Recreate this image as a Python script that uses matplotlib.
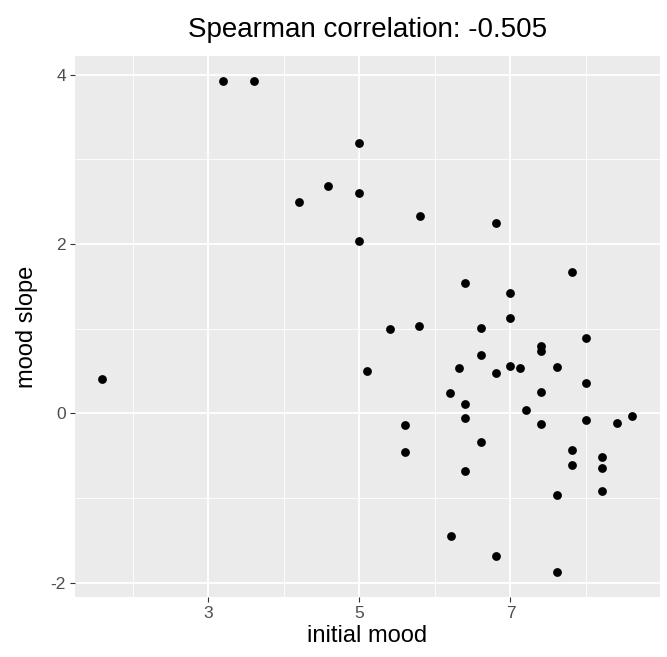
import matplotlib
matplotlib.use("Agg")
import matplotlib.pyplot as plt

# initial mood vs. mood slope
initial_mood = [1.59, 3.19, 3.60, 5.00, 4.59, 4.20, 5.00, 5.00, 5.40, 5.10,
                5.80, 6.81, 7.82, 6.40, 7.00, 7.00, 5.79, 6.61, 8.00, 7.40,
                7.40, 6.61, 6.32, 7.00, 7.12, 6.81, 7.61, 8.00, 6.20, 7.40,
                6.40, 7.21, 6.40, 5.61, 7.40, 8.00, 8.41, 8.61, 6.61, 5.61,
                7.82, 8.21, 8.21, 7.82, 6.40, 8.21, 7.61, 6.21, 6.81, 7.61]
mood_slope = [0.40, 3.92, 3.93, 3.19, 2.69, 2.50, 2.60, 2.04, 1.00, 0.50,
              2.33, 2.25, 1.67, 1.54, 1.42, 1.13, 1.03, 1.01, 0.89, 0.79,
              0.74, 0.69, 0.54, 0.56, 0.53, 0.47, 0.55, 0.36, 0.24, 0.25,
              0.11, 0.04, -0.06, -0.14, -0.13, -0.08, -0.12, -0.03, -0.34, -0.46,
              -0.43, -0.52, -0.65, -0.61, -0.68, -0.92, -0.97, -1.45, -1.69, -1.88]

x_ticks = [3, 5, 7]
y_ticks = [-2, 0, 2, 4]
title = "Spearman correlation: -0.505"

plt.rcParams['font.family'] = ['Liberation Sans', 'DejaVu Sans']

fig = plt.figure(figsize=(6.67, 6.57), dpi=100)
ax = fig.add_axes([75 / 667, 1 - 597 / 657, 585 / 667, 541 / 657])
ax.set_facecolor("#EBEBEB")

ax.set_xlim(1.235, 8.98)
ax.set_ylim(-2.17, 4.22)

# ggplot style grid: major and thinner minor lines
for v in [2, 4, 6, 8]:
    ax.axvline(v, color="white", lw=0.6, zorder=0)
for v in [-1, 1, 3]:
    ax.axhline(v, color="white", lw=0.6, zorder=0)
for v in x_ticks:
    ax.axvline(v, color="white", lw=1.3, zorder=0)
for v in y_ticks:
    ax.axhline(v, color="white", lw=1.3, zorder=0)

ax.scatter(initial_mood, mood_slope, s=40, c="black", linewidths=0, zorder=3)

ax.set_xticks(x_ticks)
ax.set_xticklabels([str(t) for t in x_ticks])
ax.set_yticks(y_ticks)
ax.set_yticklabels([str(t) for t in y_ticks])
ax.tick_params(colors="#333333", labelcolor="#4D4D4D", labelsize=12.5,
               length=3.5, width=0.8, pad=3)
for sp in ax.spines.values():
    sp.set_visible(False)

ax.set_xlabel("initial mood", fontsize=17, color="black", labelpad=3)
ax.set_ylabel("mood slope", fontsize=17, color="black", labelpad=9)
ax.set_title(title, fontsize=20, color="black", pad=14)

plt.savefig("out.png", dpi=100)
